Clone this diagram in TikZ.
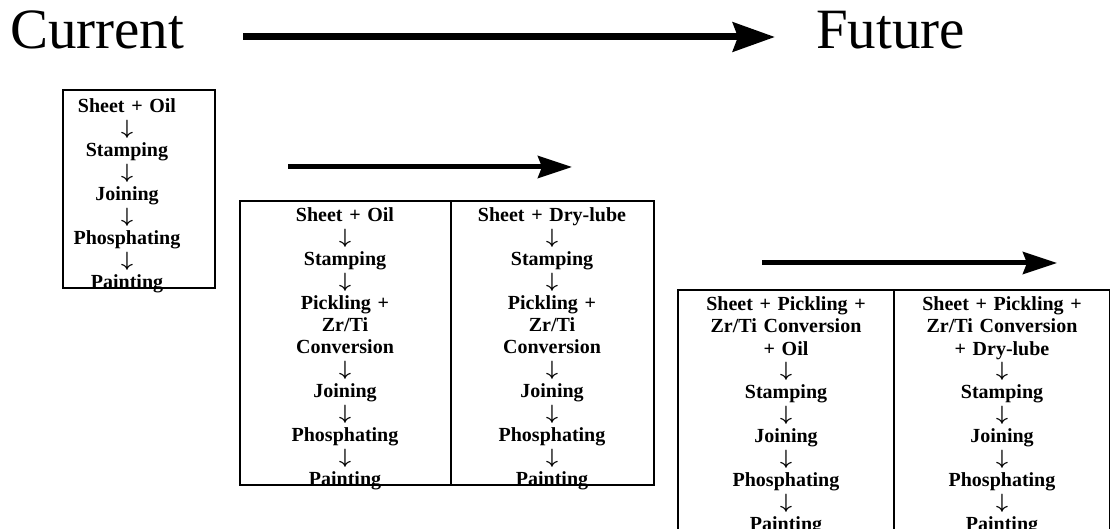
\documentclass[tikz,border=0pt]{standalone}
\usepackage{amsmath}
\usepackage{fontspec}
\setmainfont{Liberation Serif}
\usetikzlibrary{arrows.meta,positioning}

\tikzset{
  flow/.style={font=\fontsize{20}{22}\selectfont\bfseries, align=center,
    text width=200pt, inner sep=0pt, anchor=base},
  title/.style={font=\fontsize{57}{62}\selectfont, inner sep=0pt, anchor=base west},
  bigarrow/.style={line width=7pt, -{Stealth[length=42pt,width=29pt,inset=5pt]}},
  midarrow/.style={line width=5pt, -{Stealth[length=34pt,width=22pt,inset=4pt]}},
  frame/.style={line width=1.2pt},
}
\newcommand{\dn}{$\boldsymbol{\downarrow}$}

\begin{document}
\begin{tikzpicture}[x=1pt,y=-1pt]
  \useasboundingbox (0,0) rectangle (1111,529);
  % headline
  \node[title] (cur) at (10,49) {Current};
  \node[title] (fut) at (816,49) {Future};
  \coordinate (topL) at (243,37);
  \coordinate (topR) at (775,37);
  \draw[bigarrow] (topL) -- (topR);
  % current process
  \draw[frame] (63,90) rectangle (215,288);
  \node[flow] (oneA) at (127,113) {Sheet + Oil\\\dn\\Stamping\\\dn\\Joining\\\dn\\Phosphating\\\dn\\Painting};
  % second stage
  \coordinate (midL) at (288,167);
  \coordinate (midR) at (572,167);
  \draw[midarrow] (midL) -- (midR);
  \draw[frame] (240,201) rectangle (654,485);
  \draw[frame] (451,201) -- (451,485);
  \node[flow] (twoA) at (345,222) {Sheet + Oil\\\dn\\Stamping\\\dn\\Pickling +\\Zr/Ti\\Conversion\\\dn\\Joining\\\dn\\Phosphating\\\dn\\Painting};
  \node[flow] (twoB) at (552,222) {Sheet + Dry-lube\\\dn\\Stamping\\\dn\\Pickling +\\Zr/Ti\\Conversion\\\dn\\Joining\\\dn\\Phosphating\\\dn\\Painting};
  % future process
  \coordinate (lowL) at (762,263);
  \coordinate (lowR) at (1057,263);
  \draw[midarrow] (lowL) -- (lowR);
  \begin{scope}
    \clip (0,0) rectangle (1111,529);
    \draw[frame] (678,290) rectangle (1109.4,560);
    \draw[frame] (894,290) -- (894,560);
    \node[flow] (thrA) at (786,311) {Sheet + Pickling +\\Zr/Ti Conversion\\+ Oil\\\dn\\Stamping\\\dn\\Joining\\\dn\\Phosphating\\\dn\\Painting};
    \node[flow] (thrB) at (1002,311) {Sheet + Pickling +\\Zr/Ti Conversion\\+ Dry-lube\\\dn\\Stamping\\\dn\\Joining\\\dn\\Phosphating\\\dn\\Painting};
  \end{scope}
\end{tikzpicture}
\end{document}
